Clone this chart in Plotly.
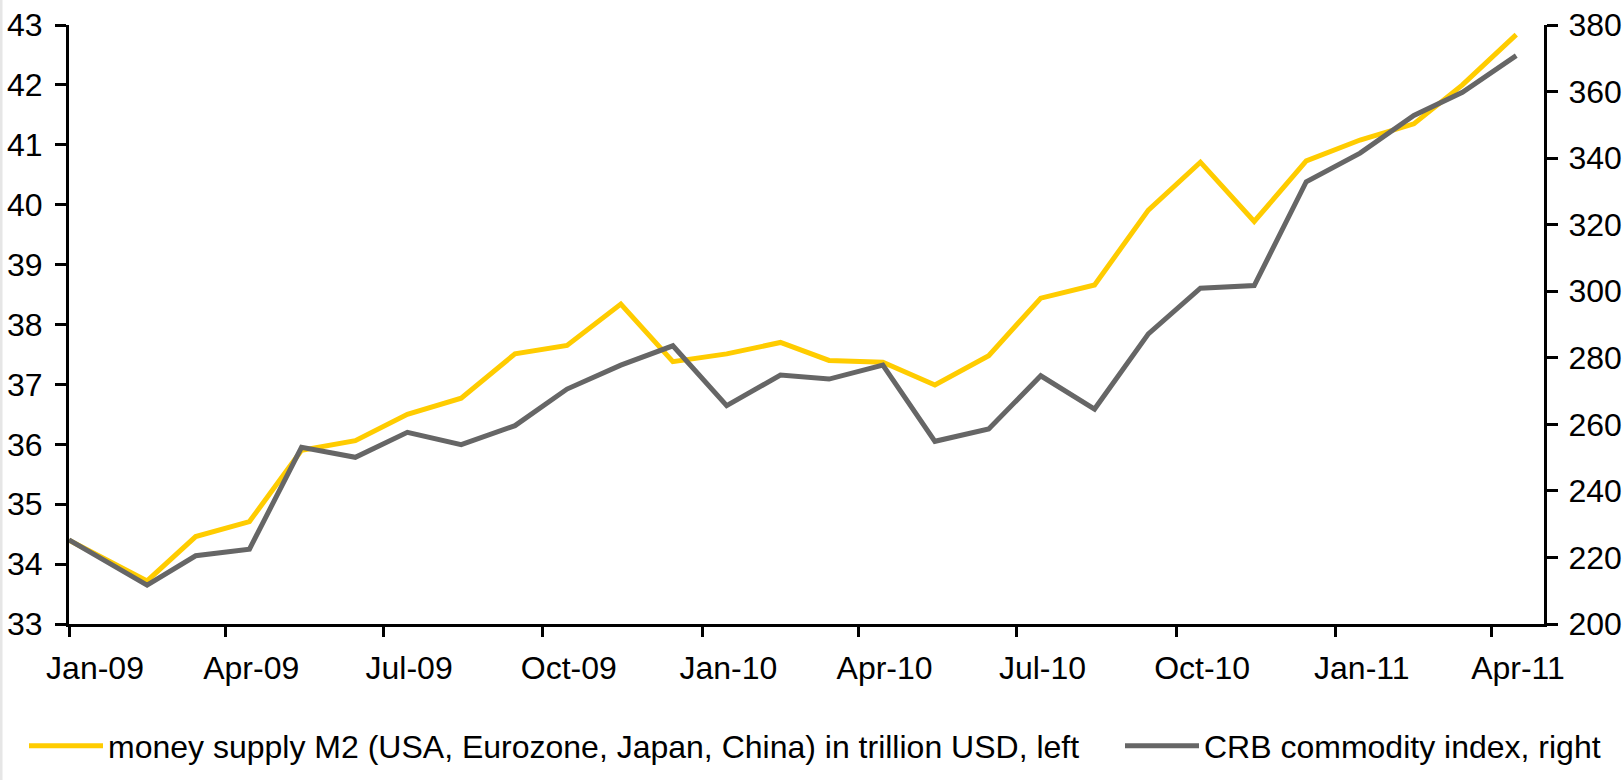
import plotly.graph_objects as go
import pandas as pd

# ---- data ----
dates = ["2009-01-01"] + [d.strftime("%Y-%m-15") for d in pd.date_range("2009-02-01", "2011-04-01", freq="MS")]
m2_trillion_usd = [34.40, 33.72, 34.46, 34.71, 35.90, 36.06, 36.50, 36.77, 37.51, 37.65,
                   38.34, 37.38, 37.51, 37.70, 37.40, 37.37, 36.99, 37.48, 38.44, 38.66,
                   39.91, 40.71, 39.72, 40.73, 41.08, 41.35, 42.00, 42.84]
crb_index = [225.3, 211.7, 220.5, 222.5, 253.1, 250.1, 257.6, 253.9, 259.6, 270.6,
             277.8, 283.6, 265.6, 274.8, 273.6, 277.8, 254.9, 258.6, 274.6, 264.6,
             287.2, 300.9, 301.7, 332.9, 341.5, 352.8, 359.8, 370.8]
tick_months = ["2009-01", "2009-04", "2009-07", "2009-10", "2010-01", "2010-04",
               "2010-07", "2010-10", "2011-01", "2011-04"]
tick_labels = ["Jan-09", "Apr-09", "Jul-09", "Oct-09", "Jan-10", "Apr-10",
               "Jul-10", "Oct-10", "Jan-11", "Apr-11"]
series_names = ["money supply M2 (USA, Eurozone, Japan, China) in trillion USD, left",
                "CRB commodity index, right"]

FONT = "Liberation Sans, Arial, sans-serif"
FS = 32
W, H = 1623, 780

fig = go.Figure()
fig.add_trace(go.Scatter(x=dates, y=m2_trillion_usd, mode="lines", name=series_names[0],
                         line=dict(color="#FFCC00", width=5), yaxis="y", legend="legend"))
fig.add_trace(go.Scatter(x=dates, y=crb_index, mode="lines", name=series_names[1],
                         line=dict(color="#666666", width=5), yaxis="y2", legend="legend2"))

leg_common = dict(orientation="h", xref="container", yref="container",
                  xanchor="left", yanchor="middle", itemwidth=74,
                  font=dict(family=FONT, size=FS, color="black"),
                  bgcolor="rgba(0,0,0,0)", borderwidth=0)

fig.update_layout(
    width=W, height=H,
    paper_bgcolor="white", plot_bgcolor="white",
    margin=dict(l=69, r=79, t=25, b=156),
    font=dict(family=FONT, size=FS, color="black"),
    showlegend=True,
    legend=dict(x=24/W, y=1-746/H, **leg_common),
    legend2=dict(x=1120/W, y=1-746/H, **leg_common),
    xaxis=dict(
        type="date", range=["2009-01-01", "2011-05-01"],
        tickmode="array", tickvals=[m + "-16" for m in tick_months], ticktext=tick_labels,
        ticks="", showgrid=False, zeroline=False, automargin=False,
        showline=True, linecolor="black", linewidth=3,
        ticklabelstandoff=14,
        minor=dict(tickmode="array", tickvals=[m + "-01" for m in tick_months],
                   ticks="outside", ticklen=10, tickwidth=3, tickcolor="black", showgrid=False),
    ),
    yaxis=dict(
        range=[33, 43], dtick=1, tick0=33, showgrid=False, zeroline=False, automargin=False,
        showline=True, linecolor="black", linewidth=3,
        ticks="outside", ticklen=11, tickwidth=3, tickcolor="black",
        ticklabelstandoff=6,
    ),
    yaxis2=dict(
        range=[200, 380], dtick=20, tick0=200, overlaying="y", side="right",
        showgrid=False, zeroline=False, automargin=False,
        showline=True, linecolor="black", linewidth=3,
        ticks="outside", ticklen=11, tickwidth=3, tickcolor="black",
        ticklabelstandoff=4,
    ),
    shapes=[dict(type="rect", xref="paper", yref="paper",
                 x0=-69/1475, x1=-66.5/1475, y0=-156/599, y1=1+25/599,
                 fillcolor="#E6E6E6", line=dict(width=0), layer="below")],
)

fig.write_html("out.html", config={"displayModeBar": False},
               post_script="document.body.style.margin='0';")
